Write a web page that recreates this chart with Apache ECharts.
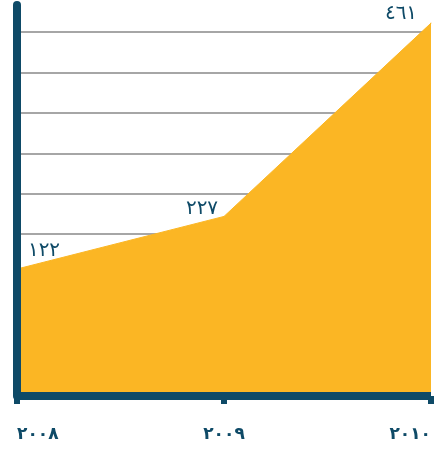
<!DOCTYPE html>
<html>
<head>
<meta charset="utf-8">
<script src="https://cdn.jsdelivr.net/npm/echarts@6/dist/echarts.min.js"></script>
<style>html,body{margin:0;padding:0;background:#fff}#c{width:435px;height:453px}</style>
</head>
<body>
<div id="c"></div>
<script>
const categories = ['٢٠٠٨', '٢٠٠٩', '٢٠١٠'];
const values = [157, 222, 461];
const valueLabels = ['١٢٢', '٢٢٧', '٤٦١'];
const labelOffsets = [[27, -3], [-22, 8], [-30, 6]];

const dark = '#0E4A67';
const yellow = '#FBB624';

const chart = echarts.init(document.getElementById('c'));
chart.setOption({
  animation: false,
  grid: { left: 17, right: 4, top: 5, bottom: 57, containLabel: false },
  xAxis: {
    type: 'category',
    data: categories,
    boundaryGap: false,
    z: 3,
    axisLine: { show: true, lineStyle: { color: dark, width: 8, cap: 'butt' } },
    axisTick: { show: true, length: 8, lineStyle: { color: dark, width: 6 } },
    axisLabel: {
      margin: 30,
      color: dark,
      fontFamily: 'DejaVu Sans',
      fontWeight: 'bold',
      fontSize: 17,
      alignMinLabel: 'left',
      alignMaxLabel: 'right'
    },
    splitLine: { show: false }
  },
  yAxis: [{
    type: 'value',
    min: 0,
    max: 483.4,
    interval: 50,
    z: 0,
    axisLine: { show: false },
    axisTick: { show: false },
    axisLabel: { show: false },
    splitLine: { show: true, showMaxLine: false, lineStyle: { color: '#a6a6a6', width: 2 } }
  }, {
    type: 'value',
    position: 'left',
    min: 0,
    max: 483.4,
    interval: 50,
    z: 3,
    axisLine: { show: true, onZero: false, lineStyle: { color: dark, width: 8 } },
    axisTick: { show: false },
    axisLabel: { show: false },
    splitLine: { show: false }
  }],
  series: [{
    type: 'line',
    yAxisIndex: 0,
    data: values.map((v, i) => ({
      value: v,
      label: { offset: labelOffsets[i] }
    })),
    symbol: 'circle',
    symbolSize: 1,
    itemStyle: { color: yellow },
    lineStyle: { color: yellow, width: 1 },
    areaStyle: { color: yellow, opacity: 1 },
    z: 2,
    label: {
      show: true,
      position: 'top',
      distance: 5,
      color: dark,
      fontFamily: 'DejaVu Sans',
      fontSize: 20,
      formatter: p => valueLabels[p.dataIndex]
    }
  }]
});
</script>
</body>
</html>
